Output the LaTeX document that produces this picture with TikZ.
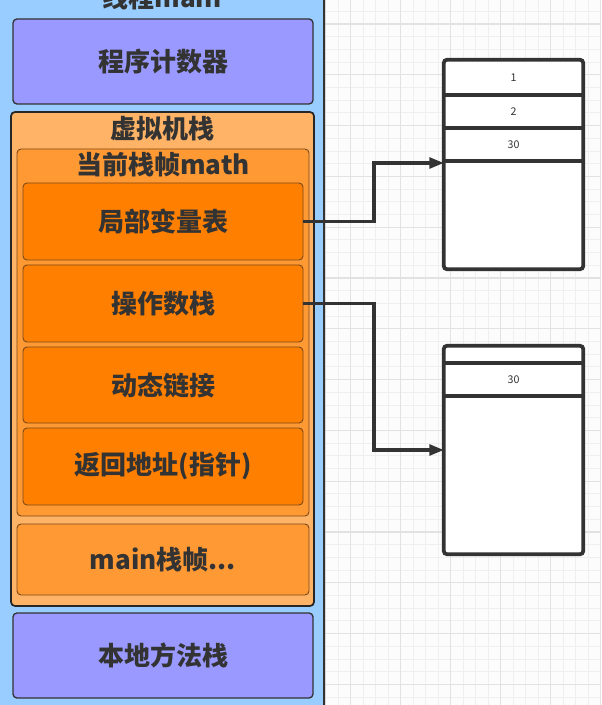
\documentclass[tikz,border=0pt]{standalone}
\usepackage{fontspec}
\setmainfont{Noto Sans CJK SC}
\usetikzlibrary{arrows.meta}
\definecolor{bgblue}{HTML}{99CCFF}
\definecolor{purp}{HTML}{9999FF}
\definecolor{vmor}{HTML}{FFB366}
\definecolor{frmor}{HTML}{FF9933}
\definecolor{inor}{HTML}{FF8000}
\definecolor{txt}{HTML}{333333}
\definecolor{brn}{HTML}{7A4A1A}
\definecolor{gmin}{HTML}{EFEFEF}
\definecolor{gmaj}{HTML}{E2E2E2}
\tikzset{
  lbl/.style={font=\fontsize{19.5}{22}\selectfont\bfseries, text=txt, inner sep=0pt},
  cellbox/.style={draw=none, inner sep=0pt, font=\fontsize{8}{9}\selectfont, text=txt},
  stackline/.style={draw=txt, line width=2.8pt, rounded corners=2.5pt},
  divline/.style={draw=txt, line width=2.8pt},
  conn/.style={draw=txt, line width=2.6pt, -{Triangle[length=11pt,width=8pt]}},
}
\begin{document}
\begin{tikzpicture}[x=0.75pt,y=-0.75pt]
\useasboundingbox (0,0) rectangle (601,705);
\fill[white!99!black] (0,0) rectangle (601,705);
% grid
\foreach \i in {-2,...,25} {
  \draw[gmin, line width=0.7pt] (325+12.5*\i+0.5,0) -- (325+12.5*\i+0.5,705);
}
\foreach \j in {-2,...,56} {
  \draw[gmin, line width=0.7pt] (325,24+12.7*\j) -- (601,24+12.7*\j);
}
\foreach \i in {0,...,6} {
  \draw[gmaj, line width=0.8pt] (350.5+50*\i,0) -- (350.5+50*\i,705);
}
\foreach \j in {-1,...,14} {
  \draw[gmaj, line width=0.8pt] (325,24+50.8*\j) -- (601,24+50.8*\j);
}
% thread container
\node[draw=txt, line width=1.5pt, fill=bgblue, rounded corners=3pt, minimum width=334*0.75pt, minimum height=750*0.75pt, inner sep=0pt] (thread) at (157,352) {};
\node[lbl] (threadt) at (162,-2) {线程main};
% program counter
\node[draw=txt, line width=1pt, fill=purp, rounded corners=3pt, minimum width=300*0.75pt, minimum height=85*0.75pt] (pc) at (163,61.5) {};
\node[lbl] (pct) at (pc.center) {程序计数器};
% vm stack
\node[draw=black!85, line width=1.3pt, fill=vmor, rounded corners=3pt, minimum width=303*0.75pt, minimum height=494*0.75pt] (vm) at (162.5,359) {};
\node[lbl] (vmt) at (162.5,129) {虚拟机栈};
% current frame
\node[draw=brn, line width=0.7pt, fill=frmor, rounded corners=3pt, minimum width=292*0.75pt, minimum height=367*0.75pt] (frame) at (163,332.5) {};
\node[lbl] (framet) at (163,165) {当前栈帧math};
% inner boxes
\node[draw=brn, line width=0.7pt, fill=inor, rounded corners=3pt, minimum width=280*0.75pt, minimum height=77*0.75pt] (lvt) at (163,221.5) {};
\node[lbl] at (lvt.center) {局部变量表};
\node[draw=brn, line width=0.7pt, fill=inor, rounded corners=3pt, minimum width=280*0.75pt, minimum height=77*0.75pt] (ops) at (163,303.5) {};
\node[lbl] at (ops.center) {操作数栈};
\node[draw=brn, line width=0.7pt, fill=inor, rounded corners=3pt, minimum width=280*0.75pt, minimum height=76*0.75pt] (dyn) at (163,385) {};
\node[lbl] at (dyn.center) {动态链接};
\node[draw=brn, line width=0.7pt, fill=inor, rounded corners=3pt, minimum width=280*0.75pt, minimum height=77*0.75pt] (ret) at (163,466.5) {};
\node[lbl] at (ret.center) {返回地址(指针)};
% main frame
\node[draw=brn, line width=0.7pt, fill=frmor, rounded corners=3pt, minimum width=292*0.75pt, minimum height=71*0.75pt] (mainf) at (163,559.5) {};
\node[lbl] at (mainf.center) {main栈帧...};
% native stack
\node[draw=txt, line width=1pt, fill=purp, rounded corners=3pt, minimum width=300*0.75pt, minimum height=85*0.75pt] (nat) at (163,655.5) {};
\node[lbl] at (nat.center) {本地方法栈};
% right stack 1
\fill[white] (444,61) rectangle (583,268);
\node[cellbox, minimum width=139*0.75pt, minimum height=35*0.75pt] (a1) at (513.5,77.5) {1};
\node[cellbox, minimum width=139*0.75pt, minimum height=33*0.75pt] (a2) at (513.5,111.5) {2};
\node[cellbox, minimum width=139*0.75pt, minimum height=33*0.75pt] (a3) at (513.5,144.5) {30};
\node[cellbox, minimum width=139*0.75pt, minimum height=108*0.75pt] (a4) at (513.5,215) {};
\draw[stackline] (a1.north west) rectangle (a4.south east);
\draw[divline] (a1.south west) -- (a1.south east);
\draw[divline] (a2.south west) -- (a2.south east);
\draw[divline] (a3.south west) -- (a3.south east);
% right stack 2
\fill[white] (444,347) rectangle (583,553);
\node[cellbox, minimum width=139*0.75pt, minimum height=17*0.75pt] (b1) at (513.5,354.5) {};
\node[cellbox, minimum width=139*0.75pt, minimum height=33*0.75pt] (b2) at (513.5,379.5) {30};
\node[cellbox, minimum width=139*0.75pt, minimum height=158*0.75pt] (b3) at (513.5,475) {};
\draw[stackline] (b1.north west) rectangle (b3.south east);
\draw[divline] (b1.south west) -- (b1.south east);
\draw[divline] (b2.south west) -- (b2.south east);
% connectors
\coordinate (t1) at (444,163);
\coordinate (t2) at (444,450);
\draw[conn] (lvt.east) -- (374,221.5) |- (t1);
\draw[conn] (ops.east) -- (374,303.5) |- (t2);
\end{tikzpicture}
\end{document}
